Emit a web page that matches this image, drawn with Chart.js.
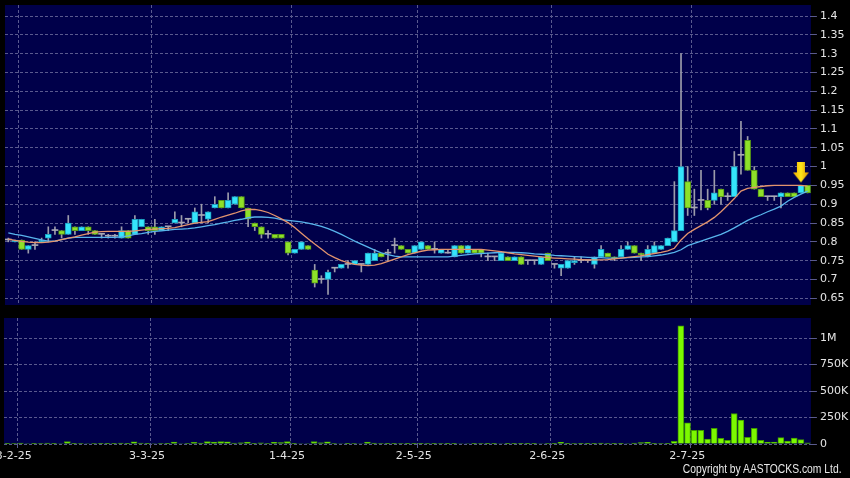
<!DOCTYPE html>
<html>
<head>
<meta charset="utf-8">
<script src="https://cdn.jsdelivr.net/npm/chart.js@4.4.1/dist/chart.umd.min.js"></script>
<style>
  html, body { margin: 0; padding: 0; background: #000; }
  #wrap { position: relative; width: 850px; height: 478px; background: #000; overflow: hidden; }
  #priceChart { position: absolute; left: 0; top: 0; }
  #volChart { position: absolute; left: 0; top: 310px; }
  #copy { position: absolute; right: 8px; top: 462px; font: 12px "Liberation Sans", sans-serif; color: #e8e8e8;
          transform: scaleX(0.86); transform-origin: right center; white-space: nowrap; }
</style>
</head>
<body>
<div id="wrap">
  <canvas id="priceChart" width="850" height="310"></canvas>
  <canvas id="volChart" width="850" height="168"></canvas>
  <div id="copy">Copyright by AASTOCKS.com Ltd.</div>
</div>
<script>
// trading days (d-m-yy)
const dates = [
  '27-1-25','28-1-25',
  '3-2-25','4-2-25','5-2-25','6-2-25','7-2-25','10-2-25','11-2-25','12-2-25','13-2-25','14-2-25',
  '17-2-25','18-2-25','19-2-25','20-2-25','21-2-25','24-2-25','25-2-25','26-2-25','27-2-25','28-2-25',
  '3-3-25','4-3-25','5-3-25','6-3-25','7-3-25','10-3-25','11-3-25','12-3-25','13-3-25','14-3-25',
  '17-3-25','18-3-25','19-3-25','20-3-25','21-3-25','24-3-25','25-3-25','26-3-25','27-3-25','28-3-25','31-3-25',
  '1-4-25','2-4-25','3-4-25','7-4-25','8-4-25','9-4-25','10-4-25','11-4-25','14-4-25','15-4-25',
  '16-4-25','17-4-25','22-4-25','23-4-25','24-4-25','25-4-25','28-4-25','29-4-25','30-4-25',
  '2-5-25','6-5-25','7-5-25','8-5-25','9-5-25','12-5-25','13-5-25','14-5-25','15-5-25','16-5-25',
  '19-5-25','20-5-25','21-5-25','22-5-25','23-5-25','26-5-25','27-5-25','28-5-25','29-5-25','30-5-25',
  '2-6-25','3-6-25','4-6-25','5-6-25','6-6-25','9-6-25','10-6-25','11-6-25','12-6-25','13-6-25',
  '16-6-25','17-6-25','18-6-25','19-6-25','20-6-25','23-6-25','24-6-25','25-6-25','26-6-25','27-6-25','30-6-25',
  '2-7-25','3-7-25','4-7-25','7-7-25','8-7-25','9-7-25','10-7-25','11-7-25','14-7-25','15-7-25',
  '16-7-25','17-7-25','18-7-25','21-7-25','22-7-25','23-7-25','24-7-25','25-7-25'
];

const opens = [
  0.805,0.80,
  0.805,0.78,0.79,0.80,0.81,0.83,0.83,0.82,0.84,0.83,0.84,0.83,0.82,0.815,0.815,0.81,0.83,0.82,0.84,0.84,
  0.84,0.83,0.84,0.85,0.85,0.86,0.85,0.87,0.86,0.89,0.91,0.89,0.90,0.92,0.89,0.85,0.84,0.82,0.82,0.82,0.80,
  0.77,0.78,0.79,0.725,0.70,0.70,0.73,0.73,0.74,0.74,0.74,0.74,0.75,0.77,0.77,0.79,0.79,0.78,0.77,
  0.78,0.79,0.78,0.77,0.77,0.76,0.79,0.77,0.78,0.78,0.76,0.76,0.75,0.76,0.75,0.76,0.75,0.75,0.74,0.77,
  0.74,0.73,0.73,0.745,0.75,0.75,0.74,0.76,0.77,0.76,0.76,0.78,0.79,0.77,0.76,0.77,0.78,0.79,0.80,0.83,0.96,
  0.89,0.91,0.91,0.91,0.94,0.92,0.92,1.03,1.07,0.99,0.94,0.92,0.92,0.92,0.93,0.93,0.93,0.95
];
const highs = [
  0.81,0.805,
  0.805,0.79,0.80,0.81,0.84,0.84,0.83,0.87,0.84,0.84,0.84,0.83,0.82,0.82,0.82,0.84,0.83,0.87,0.86,0.84,
  0.86,0.84,0.84,0.88,0.87,0.86,0.89,0.90,0.88,0.92,0.91,0.93,0.92,0.92,0.89,0.85,0.84,0.83,0.82,0.82,0.80,
  0.78,0.80,0.79,0.74,0.71,0.725,0.73,0.74,0.75,0.75,0.74,0.77,0.78,0.77,0.78,0.81,0.79,0.78,0.79,
  0.80,0.79,0.80,0.78,0.78,0.79,0.79,0.79,0.78,0.78,0.77,0.76,0.77,0.76,0.76,0.76,0.75,0.75,0.76,0.77,
  0.74,0.74,0.75,0.76,0.76,0.75,0.76,0.79,0.77,0.76,0.79,0.80,0.79,0.77,0.79,0.80,0.79,0.81,0.96,1.30,1.00,
  0.94,0.99,0.94,0.99,0.94,0.93,1.04,1.12,1.08,1.00,0.94,0.92,0.92,0.93,0.93,0.93,0.95,0.95
];
const lows = [
  0.80,0.80,
  0.78,0.77,0.78,0.80,0.80,0.82,0.81,0.82,0.82,0.83,0.82,0.82,0.81,0.81,0.81,0.81,0.81,0.82,0.84,0.82,
  0.82,0.83,0.83,0.85,0.84,0.85,0.85,0.85,0.85,0.89,0.89,0.89,0.90,0.89,0.84,0.83,0.81,0.81,0.81,0.81,0.765,
  0.77,0.78,0.78,0.68,0.69,0.66,0.72,0.73,0.73,0.74,0.72,0.74,0.75,0.76,0.75,0.77,0.78,0.77,0.77,
  0.78,0.78,0.77,0.77,0.77,0.76,0.77,0.77,0.77,0.76,0.75,0.75,0.75,0.75,0.75,0.74,0.74,0.74,0.74,0.75,
  0.73,0.71,0.73,0.74,0.745,0.745,0.73,0.76,0.76,0.75,0.76,0.78,0.77,0.75,0.76,0.77,0.78,0.79,0.80,0.83,0.87,
  0.87,0.885,0.885,0.90,0.90,0.91,0.92,0.98,0.99,0.94,0.92,0.91,0.91,0.89,0.92,0.92,0.93,0.93
];
const closes = [
  0.805,0.805,
  0.78,0.79,0.79,0.805,0.82,0.83,0.82,0.85,0.83,0.84,0.83,0.82,0.82,0.815,0.815,0.83,0.81,0.86,0.86,0.83,
  0.83,0.84,0.84,0.86,0.85,0.86,0.88,0.87,0.88,0.90,0.89,0.91,0.92,0.89,0.86,0.84,0.82,0.82,0.81,0.81,0.77,
  0.78,0.80,0.78,0.69,0.70,0.72,0.73,0.74,0.74,0.75,0.74,0.77,0.77,0.76,0.77,0.79,0.78,0.77,0.79,
  0.80,0.78,0.78,0.78,0.77,0.79,0.77,0.79,0.77,0.77,0.76,0.76,0.77,0.75,0.76,0.74,0.75,0.75,0.76,0.75,
  0.74,0.74,0.75,0.75,0.75,0.75,0.76,0.78,0.76,0.755,0.78,0.79,0.77,0.765,0.78,0.79,0.79,0.81,0.83,1.00,0.89,
  0.89,0.91,0.89,0.93,0.92,0.92,1.00,1.03,0.99,0.94,0.92,0.92,0.92,0.93,0.92,0.92,0.95,0.93
];
const volumes = [
  6000,4000,
  8000,5000,3000,4000,9000,3000,5000,22000,6000,4000,5000,4000,2000,3000,2000,8000,6000,20000,9000,6000,
  5000,4000,3000,18000,5000,4000,15000,8000,22000,18000,24000,20000,9000,12000,18000,7000,10000,4000,16000,14000,22000,
  6000,5000,5000,24000,12000,20000,4000,5000,3000,4000,5000,18000,8000,4000,3000,6000,4000,3000,6000,
  7000,4000,3000,4000,2000,6000,5000,5000,3000,4000,2000,2000,5000,3000,3000,6000,2000,2000,5000,4000,
  3000,16000,7000,4000,2000,2000,6000,8000,4000,3000,6000,5000,8000,14000,16000,6000,4000,6000,25000,1117000,200000,
  130000,130000,47000,149000,54000,35000,288000,225000,63000,149000,35000,19000,19000,60000,28000,57000,41000,10000
];
// short (orange) and long (blue) moving averages as drawn
const maShort = [
  0.807,0.804,
  0.801,0.799,0.798,0.798,0.799,0.802,0.806,0.810,0.813,0.818,0.822,0.826,0.827,0.828,0.828,0.828,0.828,0.829,0.831,0.833,
  0.834,0.835,0.836,0.838,0.842,0.846,0.850,0.852,0.854,0.860,0.866,0.871,0.876,0.882,0.886,0.886,0.883,0.878,0.870,0.861,0.851,
  0.838,0.823,0.808,0.794,0.781,0.767,0.758,0.750,0.745,0.740,0.738,0.737,0.738,0.742,0.748,0.754,0.760,0.766,0.771,
  0.775,0.778,0.779,0.780,0.780,0.780,0.780,0.780,0.780,0.780,0.778,0.776,0.774,0.771,0.768,0.766,0.764,0.762,0.760,0.758,
  0.757,0.756,0.755,0.754,0.753,0.752,0.752,0.752,0.753,0.755,0.757,0.759,0.761,0.763,0.766,0.769,0.772,0.776,0.783,0.805,0.822,
  0.833,0.843,0.853,0.865,0.880,0.897,0.915,0.935,0.942,0.945,0.947,0.949,0.950,0.950,0.950,0.950,0.950,0.948
];
const maLong = [
  0.824,0.820,
  0.817,0.813,0.809,0.805,0.802,0.802,0.806,0.810,0.812,0.812,0.812,0.812,0.812,0.812,0.812,0.813,0.816,0.820,0.822,0.825,
  0.828,0.829,0.831,0.833,0.834,0.835,0.837,0.840,0.843,0.846,0.850,0.853,0.857,0.860,0.864,0.866,0.866,0.865,0.863,0.859,0.857,
  0.855,0.853,0.850,0.846,0.841,0.835,0.828,0.820,0.811,0.802,0.794,0.786,0.778,0.771,0.766,0.762,0.760,0.760,0.760,
  0.760,0.760,0.760,0.760,0.760,0.762,0.764,0.766,0.768,0.769,0.770,0.771,0.772,0.772,0.772,0.771,0.770,0.768,0.767,0.766,
  0.764,0.763,0.762,0.761,0.760,0.759,0.758,0.758,0.757,0.757,0.757,0.758,0.759,0.760,0.761,0.763,0.765,0.768,0.772,0.779,0.790,
  0.796,0.802,0.808,0.814,0.820,0.828,0.837,0.847,0.857,0.865,0.872,0.880,0.887,0.895,0.908,0.918,0.927,0.935
];

const priceTicks = [0.65,0.7,0.75,0.8,0.85,0.9,0.95,1,1.05,1.1,1.15,1.2,1.25,1.3,1.35,1.4];
const volumeTicks = [0, 250000, 500000, 750000, 1000000];
const tickDates = ['3-2-25','3-3-25','1-4-25','2-5-25','2-6-25','2-7-25'];
const markerDate = '24-7-25';

// colours
const navy = '#00004a';
const gridCol = '#5a5a8e';
const textCol = '#e4e4e4';
const upFill = '#35e4fb', upEdge = '#1c9fc0';
const downFill = '#8ee02a', downEdge = '#589a16';
const flatCol = '#a8a8b4';
const wickCol = '#9c9cab';

const areaBg = {
  id: 'areaBg',
  beforeDraw(chart) {
    const { ctx, chartArea: a } = chart;
    ctx.save();
    ctx.fillStyle = navy;
    ctx.fillRect(a.left, a.top, a.width, a.height);
    ctx.restore();
  }
};

const vGrid = ctx => (ctx.tick && tickDates.includes(dates[ctx.index])) ? gridCol : 'rgba(0,0,0,0)';

function xScale(showLabels) {
  return {
    type: 'category',
    offset: true,
    grid: { offset: true, color: vGrid, tickColor: vGrid, drawTicks: showLabels, tickLength: 4 },
    border: { display: false, dash: [3, 2] },
    ticks: {
      display: showLabels, autoSkip: false, maxRotation: 0, minRotation: 0,
      color: textCol, font: { family: 'DejaVu Sans', size: 11 }, padding: 2, labelOffset: -7,
      callback: (v, i) => tickDates.includes(dates[i]) ? dates[i] : ''
    },
    afterFit: s => { s.height = showLabels ? 34 : 0; s.paddingLeft = 0; s.paddingRight = 0; }
  };
}

function yScale(min, max, list, fmt) {
  return {
    position: 'right', min: min, max: max,
    afterBuildTicks: s => { s.ticks = list.map(v => ({ value: v })); },
    grid: { color: gridCol, tickColor: gridCol, drawTicks: true, tickLength: 6 },
    border: { display: false, dash: [3, 2] },
    ticks: { color: textCol, font: { family: 'DejaVu Sans', size: 11 }, padding: 3, callback: fmt },
    afterFit: s => { s.width = 39.1; s.paddingTop = 0; s.paddingBottom = 0; }
  };
}

function makeArrow() {
  const c = document.createElement('canvas');
  c.width = 16; c.height = 46;
  const g = c.getContext('2d');
  const grad = g.createLinearGradient(0, 0, 16, 0);
  grad.addColorStop(0, '#f0a800');
  grad.addColorStop(0.5, '#ffe81a');
  grad.addColorStop(1, '#e09000');
  g.fillStyle = grad;
  g.fillRect(4, 0, 8, 11);
  g.beginPath(); g.moveTo(0, 10); g.lineTo(16, 10); g.lineTo(8, 20); g.closePath(); g.fill();
  return c;
}

const bodyColor = (i, up, down) => closes[i] === opens[i] ? flatCol : (closes[i] > opens[i] ? up : down);

// price panel
new Chart(document.getElementById('priceChart'), {
  type: 'bar',
  data: {
    labels: dates,
    datasets: [
      {
        type: 'line', data: maShort, borderColor: '#e3946e', borderWidth: 1.3,
        pointRadius: 0, tension: 0, order: 1
      },
      {
        type: 'line', data: maLong, borderColor: '#58b4ec', borderWidth: 1.3,
        pointRadius: 0, tension: 0, order: 1
      },
      {
        type: 'line', showLine: false, order: 0,
        data: dates.map((d, i) => d === markerDate ? highs[i] : null),
        pointStyle: makeArrow(), pointRadius: 3
      },
      {
        data: opens.map((o, i) => [o, closes[i]]),
        backgroundColor: c => bodyColor(c.dataIndex, upFill, downFill),
        borderColor: c => bodyColor(c.dataIndex, upEdge, downEdge),
        borderWidth: c => closes[c.dataIndex] === opens[c.dataIndex] ? 0 : 1,
        borderSkipped: false, barThickness: 6, minBarLength: 1, grouped: false, order: 2
      },
      {
        data: lows.map((l, i) => [l, highs[i]]),
        backgroundColor: wickCol, barThickness: 1, grouped: false, order: 3
      }
    ]
  },
  options: {
    responsive: false, animation: false,
    layout: { padding: { left: 4, right: 0, top: 5, bottom: 5 } },
    plugins: { legend: { display: false }, tooltip: { enabled: false } },
    scales: {
      x: xScale(false),
      y: yScale(0.6322, 1.4293, priceTicks, v => String(+v.toFixed(2)))
    }
  },
  plugins: [areaBg]
});

// volume panel
new Chart(document.getElementById('volChart'), {
  type: 'bar',
  data: {
    labels: dates,
    datasets: [{
      data: volumes, backgroundColor: '#7cf800', borderColor: '#3f9a00', borderWidth: 1,
      barThickness: 6, grouped: false
    }]
  },
  options: {
    responsive: false, animation: false,
    layout: { padding: { left: 4, right: 0, top: 8, bottom: 0 } },
    plugins: { legend: { display: false }, tooltip: { enabled: false } },
    scales: {
      x: xScale(true),
      y: yScale(0, 1190000, volumeTicks, v => v === 0 ? '0' : (v >= 1000000 ? (v / 1000000) + 'M' : (v / 1000) + 'K'))
    }
  },
  plugins: [areaBg]
});
</script>
</body>
</html>
